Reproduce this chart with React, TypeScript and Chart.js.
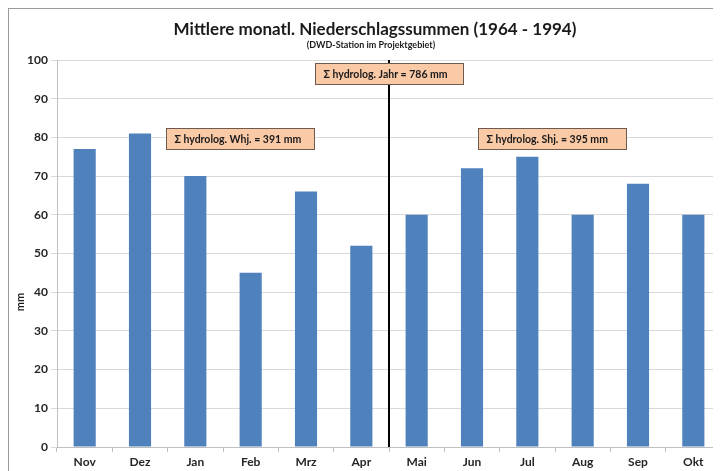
import React, { useEffect, useRef } from "react";
import { Chart, registerables } from "chart.js";

Chart.register(...registerables);

const months = ["Nov", "Dez", "Jan", "Feb", "Mrz", "Apr", "Mai", "Jun", "Jul", "Aug", "Sep", "Okt"];
const precipitation = [77, 81, 70, 45, 66, 52, 60, 72, 75, 60, 68, 60];
const titleText = "Mittlere monatl. Niederschlagssummen (1964 - 1994)";
const subtitleText = "(DWD-Station im Projektgebiet)";
const yAxisLabel = "mm";
const annotationTexts = ["Σ hydrolog. Whj. = 391 mm", "Σ hydrolog. Jahr = 786 mm", "Σ hydrolog. Shj. = 395 mm"];
const annotationAnchorsX = [2.8, 5.5, 8.44];
const annotationAnchorsY = [79.7, 96.4, 79.7];
const dividerIndex = 5.5;

const FONT = "Lato, 'Open Sans', sans-serif";

const overlayPlugin = {
  id: "overlay",
  afterDatasetsDraw(chart: any) {
    const ctx = chart.ctx as CanvasRenderingContext2D;
    const xs = chart.scales.x;
    const ys = chart.scales.y;
    const area = chart.chartArea;
    ctx.save();
    // divider line
    const lx = xs.getPixelForValue(dividerIndex);
    ctx.strokeStyle = "#000";
    ctx.lineWidth = 2;
    ctx.beginPath();
    ctx.moveTo(lx, area.top);
    ctx.lineTo(lx, area.bottom);
    ctx.stroke();
    // boxes
    ctx.font = `bold 10.5px ${FONT}`;
    annotationTexts.forEach((t, i) => {
      const cx = xs.getPixelForValue(annotationAnchorsX[i]);
      const cy = ys.getPixelForValue(annotationAnchorsY[i]);
      const w = 148;
      const h = 21;
      const bx = Math.round(cx - w / 2) + 0.5;
      const by = Math.round(cy - h / 2) + 0.5;
      ctx.fillStyle = "#FAC9A6";
      ctx.fillRect(bx, by, w, h);
      ctx.strokeStyle = "#6e5a4e";
      ctx.lineWidth = 1;
      ctx.strokeRect(bx, by, w, h);
      ctx.fillStyle = "#1a1a1a";
      ctx.textAlign = "left";
      ctx.textBaseline = "middle";
      ctx.fillText(t, bx + 8, by + h / 2 + 0.5);
    });
    // titles
    ctx.fillStyle = "#1a1a1a";
    ctx.textAlign = "center";
    ctx.textBaseline = "middle";
    ctx.font = `bold 17px ${FONT}`;
    ctx.fillText(titleText, 366, 21);
    ctx.font = `bold 9px ${FONT}`;
    ctx.fillText(subtitleText, 362, 36);
    // y label
    ctx.save();
    ctx.translate(11, 293);
    ctx.rotate(-Math.PI / 2);
    ctx.font = `bold 11px ${FONT}`;
    ctx.fillText(yAxisLabel, 0, 0);
    ctx.restore();
    ctx.restore();
  },
};

export default function App() {
  const ref = useRef<HTMLCanvasElement | null>(null);
  useEffect(() => {
    document.body.style.overflow = "hidden";
    const chart = new Chart(ref.current as HTMLCanvasElement, {
      type: "bar",
      data: {
        labels: months,
        datasets: [
          {
            data: precipitation,
            backgroundColor: "#4F81BD",
            barPercentage: 0.4,
            categoryPercentage: 1,
          },
        ],
      },
      options: {
        responsive: false,
        animation: false,
        layout: { padding: { top: 51, left: 0, right: 0, bottom: 0 } },
        plugins: { legend: { display: false }, tooltip: { enabled: false }, title: { display: false } },
        scales: {
          x: {
            afterFit: (s: any) => {
              s.height = 24;
            },
            grid: { drawOnChartArea: false, drawTicks: true, tickLength: 5, color: "#bfbfbf" },
            border: { color: "#bfbfbf" },
            ticks: { font: { family: FONT, size: 12, weight: "bold" }, color: "#262626", padding: 3 },
          },
          y: {
            min: 0,
            max: 100,
            afterFit: (s: any) => {
              s.width = 48;
            },
            grid: { color: "#d9d9d9", tickLength: 6, drawTicks: true },
            border: { color: "#bfbfbf" },
            ticks: { stepSize: 10, font: { family: FONT, size: 12, weight: "bold" }, color: "#262626", padding: 3 },
          },
        },
      },
      plugins: [overlayPlugin],
    });
    return () => chart.destroy();
  }, []);
  return (
    <div
      style={{
        width: 712,
        height: 462,
        borderTop: "1px solid #9a9a9a",
        borderLeft: "1px solid #9a9a9a",
        overflow: "hidden",
        background: "#fff",
      }}
    >
      <canvas ref={ref} width={712} height={462} style={{ display: "block" }} />
    </div>
  );
}
